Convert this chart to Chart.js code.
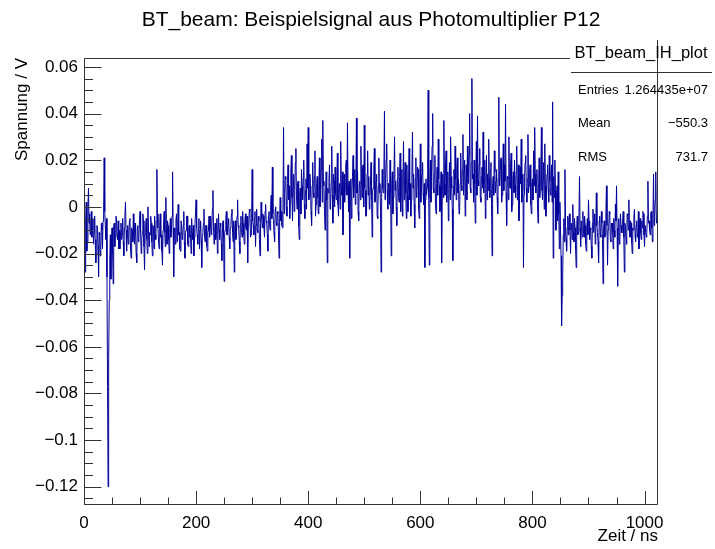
<!DOCTYPE html>
<html lang="de">
<head>
  <meta charset="UTF-8" />
  <title>BT_beam: Beispielsignal aus Photomultiplier P12</title>
  <style>
    html, body { margin: 0; padding: 0; background: #fff; }
    canvas { display: block; }
  </style>
</head>
<body>
  <canvas id="plot" width="715" height="549"></canvas>

  <script src="https://cdn.jsdelivr.net/npm/chart.js"></script>
  <script>
    // bin width of the histogram (ns) and signal per bin in mV
    const binWidthNs = 1;
    const signalMilliV = [
      -4, -10, -28, -6, 2, -19, -15, 0, 8, -7, -3, -12, -8, -2, -13, -9,
      -5, -16, -11, -4, -14, -24, -20, -8, -9, -17, -30, -11, -12, -21, -17, -7,
      -10, -18, -6, -3, 21, -2, -8, -14, -5, -30, -77, -120, -65, -40, -22, -12,
      -31, -15, -9, -20, -33, -8, -7, -17, -13, -4, -5, -12, -14, -6, -18, -10,
      -18, -11, -7, -14, -12, -5, -15, -21, -9, -4, 2, -10, -19, -13, -8, -16,
      -13, -6, -5, -18, -22, -9, -10, -15, -3, -12, -16, -7, -11, -20, -24, -9,
      -8, -15, -13, -6, -2, -11, -20, -14, -11, -3, -6, -17, -27, -12, -9, -5,
      -14, -20, 0, -9, -17, -11, -12, -4, -7, -15, -21, -8, -10, -18, -4, -12,
      -14, -6, 16, -3, -9, -15, -18, -8, -3, -13, -12, -19, -25, -10, -7, -2,
      -11, -17, 4, -9, -16, -6, -8, -14, -20, -11, -5, -13, -10, -4, 15, -9,
      -30, -12, -9, -16, -6, -3, -15, -9, 1, -12, -11, -18, -19, -6, -7, -14,
      -13, -8, -2, -15, -22, -11, -10, -4, -4, -16, -17, -9, -8, -13, -12, -20,
      -5, -11, -14, -8, -21, -13, -7, -2, 3, -9, -12, -16, -9, -5, -18, -10,
      -6, -14, -26, -12, -11, -7, -1, -13, -15, -8, -8, -17, -19, -11, -10, -4,
      -13, -9, -4, -12, -9, -1, 7, -8, -16, -11, -7, -14, -11, -5, -20, -12,
      -3, -10, -14, -7, -8, -16, -23, -9, -6, -13, -32, -11, -10, -5, -2, -12,
      -12, -7, -5, -13, -18, -9, -8, -3, -1, -11, -15, -6, -28, -10, -6, -14,
      -11, -4, 3, -8, -9, -15, -20, -7, -4, -11, -13, -2, -7, -12, -16, -6,
      -3, -9, -10, -4, -24, -8, -7, -1, -2, -13, -12, -5, 16, -6, -8, -12,
      -5, -2, -17, -8, -1, -10, -11, -4, -6, -14, -21, -7, 2, -5, -9, -3,
      -4, -9, -13, -2, 1, -6, -7, -12, -19, -4, -2, -8, -10, 1, 5, -5,
      17, -3, -6, -11, -15, -1, 0, -7, -8, -2, -3, -12, -22, -5, 4, -6,
      -2, -8, -9, 1, 34, -3, 6, 13, 12, 0, -4, 10, 18, 3, 9, -5,
      2, 15, 22, 4, -6, 8, 14, -2, 7, 19, 25, 5, -1, 10, 11, -8,
      -14, 6, 8, -3, 16, 9, 3, 12, 20, 1, -5, 7, 12, -1, 27, 8,
      34, 3, 5, 14, 10, -2, -8, 9, 19, 6, 4, 13, 24, -4, 1, 10,
      13, 4, -3, 9, 21, 0, 7, 16, 29, 2, 37, 11, 9, -2, -10, 6,
      15, 3, -24, 8, 6, 12, 18, -1, 2, 10, 26, 5, -7, 14, 11, 0,
      17, 6, 3, 11, 23, 1, -4, 9, 10, -1, 28, 7, 5, 15, -12, 4,
      14, 2, 8, 18, 20, 5, 36, 9, -2, 11, -22, 3, 12, -5, 6, 13,
      22, 4, 9, 16, 1, 8, 38, 6, 15, -2, -6, 10, 11, 3, 26, 12,
      4, 17, 18, 0, 35, 8, 7, -4, -3, 14, 24, 5, 13, -1, 2, 9,
      19, 5, -13, 7, 8, 16, 25, 2, 3, 11, 14, -4, -5, 9, 21, 6,
      10, -2, -28, 4, 16, 8, 6, 15, 41, 3, 12, 20, 27, 7, -1, 10,
      9, 1, 20, 6, -21, 10, 15, -3, 4, 14, 30, 7, 11, 0, -8, 12,
      17, 4, 2, 13, 23, -2, 8, 16, -4, 9, 28, 3, 13, 19, 6, -5,
      18, 5, -2, 11, 25, 3, 10, -4, 3, 15, 32, 8, 14, 1, -9, 12,
      21, 4, 7, 17, 16, -1, -5, 9, 27, 2, 11, 14, 19, 6, 1, 10,
      -26, 3, 12, 5, 8, 16, 50, 4, -25, 11, 20, 2, 15, 26, 40, 8,
      6, 14, 22, 1, -3, 10, 17, 5, 29, 12, 9, -2, 4, 15, -24, 7,
      14, 4, 37, 10, 5, 18, 24, 2, 11, 15, -6, 8, 19, 3, 30, 13,
      8, -1, -23, 9, 16, 5, 26, 12, 3, 17, 21, 6, 12, -3, -2, 10,
      23, 9, 7, 16, 31, 5, 15, 20, -4, 11, 18, 3, 26, 13, 10, 22,
      40, 8, 6, 19, 55, 12, 14, 2, 20, 10, -7, 15, 28, 5, 39, 11,
      9, 18, 25, 4, 2, 13, 17, 8, 32, 6, 11, 20, -5, 9, 22, 3,
      14, 7, 29, 12, 4, 16, 19, 1, -21, 10, 13, 5, 24, 15, 6, 11,
      16, 4, -3, 12, 47, 9, 10, 19, 21, 2, 5, 14, 27, 7, 18, 11,
      44, 6, -8, 13, 12, 3, 30, 9, 8, 17, 23, -2, 1, 12, 15, 6,
      20, 9, 4, 15, 26, 3, 11, 18, -6, 7, 17, 10, 29, 2, 7, 14,
      -26, 5, 13, 19, 22, 8, 2, 12, 31, 6, 9, 16, 18, 1, -3, 10,
      12, 3, 24, 9, 34, 14, 6, 11, 16, 1, -7, 8, 21, 4, 10, 15,
      34, 7, 3, 12, 19, -1, 27, 9, -4, 6, 14, 18, 8, 2, 22, 11,
      5, 10, 18, 2, 45, -22, 13, 4, 20, 7, -10, 1, 9, -6, 15, -3,
      -18, 2, -8, -21, -51, -38, -29, -12, -5, -15, 16, -8, -14, -19, -9, -4,
      -12, -6, -3, -10, -20, -9, -7, -14, 1, -11, -15, -5, -9, -18, -26, -8,
      -4, -12, -11, -3, 13, -9, -17, -6, -6, -13, -2, -10, -13, -4, -8, -16,
      -19, -8, -5, -12, 3, -6, -14, -9, -10, -17, -22, -7, -1, -11, -8, -3,
      -16, -10, 6, -8, -11, -15, -24, -6, -4, -12, -13, -2, -7, -14, -33, -9,
      -6, -13, -12, -4, 9, -8, -25, -10, -9, -2, -3, -14, -15, -7, -7, -11,
      -18, -5, -10, -13, 1, -6, 9, -9, -34, -12, -5, -16, -14, -3, -8, -11,
      -11, -5, -2, -13, -28, -7, -9, -14, -16, -3, -4, -10, 3, -8, -13, -6,
      -7, -15, -20, -9, -10, -4, -1, -12, -15, -8, -6, -13, -12, -2, -18, -9,
      -5, -11, -14, -6, -9, -2, -3, -12, -17, -8, -8, -13, -11, -4, 11, -7,
      -6, -10, -12, -3, -2, -9, -15, -5, 14, -8, -4, 3, 15, -6, -7, -2
    ];

    const xTicks = [0, 200, 400, 600, 800, 1000];
    const yTicks = [-0.12, -0.1, -0.08, -0.06, -0.04, -0.02, 0, 0.02, 0.04, 0.06];
    const xRange = [0, 1024];
    const yRange = [-0.1278, 0.0638];

    const statsTitle = "BT_beam_IH_plot";
    const statsNames = ["Entries", "Mean", "RMS"];
    const statsValues = ["1.264435e+07", "\u2212550.3", "731.7"];

    const points = signalMilliV.map((mv, i) => ({ x: i * binWidthNs, y: mv / 1000 }));

    function fmtTick(v) {
      return String(parseFloat(v.toFixed(3))).replace("-", "\u2212");
    }

    // ROOT style frame, inward ticks and the stats box
    const rootFrame = {
      id: "rootFrame",
      beforeDraw(chart) {
        const c = chart.ctx;
        c.save();
        c.fillStyle = "#fff";
        c.fillRect(0, 0, chart.width, chart.height);
        c.restore();
      },
      afterDraw(chart) {
        const c = chart.ctx;
        const a = chart.chartArea;
        const xs = chart.scales.x, ys = chart.scales.y;
        const L = Math.round(a.left) + 0.5, R = Math.round(a.right) - 0.5;
        const T = Math.round(a.top) + 0.5, B = Math.round(a.bottom) - 0.5;
        c.save();
        c.strokeStyle = "#333";
        c.lineWidth = 1;
        c.beginPath();
        c.moveTo(L, T); c.lineTo(L, B); c.lineTo(R, B);
        c.moveTo(R, 40); c.lineTo(R, B);
        c.moveTo(L, T); c.lineTo(570, T);
        // y ticks
        for (let v = -0.125; v <= yRange[1] + 1e-9; v += 0.005) {
          const y = Math.round(ys.getPixelForValue(v)) + 0.5;
          const major = yTicks.some(t => Math.abs(t - v) < 1e-6);
          c.moveTo(L, y); c.lineTo(L + (major ? 17 : 8.5), y);
        }
        // x ticks
        for (let v = 0; v <= xRange[1]; v += 50) {
          const x = Math.round(xs.getPixelForValue(v)) + 0.5;
          const major = v % 200 === 0;
          c.moveTo(x, B); c.lineTo(x, B - (major ? 13.5 : 7));
        }
        c.stroke();

        // stats box
        c.fillStyle = "#000";
        c.font = "16.5px 'Liberation Sans', Arial, sans-serif";
        c.textAlign = "center";
        c.textBaseline = "middle";
        c.fillText(statsTitle, 641, 53);
        c.beginPath();
        c.moveTo(571, 72.5); c.lineTo(712, 72.5);
        c.stroke();
        c.font = "13px 'Liberation Sans', Arial, sans-serif";
        statsNames.forEach((n, i) => {
          const y = 90 + i * 33.5;
          c.textAlign = "left";
          c.fillText(n, 578, y);
          c.textAlign = "right";
          c.fillText(statsValues[i], 708, y);
        });
        c.restore();
      }
    };

    const font = { family: "'Liberation Sans', Arial, sans-serif", size: 17 };

    new Chart(document.getElementById("plot"), {
      type: "line",
      data: {
        datasets: [{
          data: points,
          borderColor: "#000099",
          borderWidth: 1,
          pointRadius: 0,
          tension: 0,
          fill: false
        }]
      },
      options: {
        responsive: false,
        animation: false,
        devicePixelRatio: 1,
        layout: { padding: { left: 0, right: 57, top: 0, bottom: 0 } },
        plugins: {
          legend: { display: false },
          tooltip: { enabled: false },
          title: {
            display: true,
            text: "BT_beam: Beispielsignal aus Photomultiplier P12",
            fullSize: false,
            color: "#000",
            font: { family: font.family, size: 21, weight: "normal" },
            padding: { top: 7.4, bottom: 25.4 }
          }
        },
        scales: {
          x: {
            type: "linear",
            min: xRange[0],
            max: xRange[1],
            grid: { display: false, drawTicks: false },
            border: { display: false },
            afterBuildTicks: s => { s.ticks = xTicks.map(v => ({ value: v })); },
            afterFit: s => { s.height = 44; },
            ticks: { color: "#000", font: font, padding: 8, maxRotation: 0, callback: v => fmtTick(v) },
            title: { display: true, text: "Zeit / ns", align: "end", color: "#000", font: font, padding: { top: 0, bottom: 2 } }
          },
          y: {
            min: yRange[0],
            max: yRange[1],
            grid: { display: false, drawTicks: false },
            border: { display: false },
            afterBuildTicks: s => { s.ticks = yTicks.map(v => ({ value: v })); },
            afterFit: s => { s.width = 84; },
            ticks: { color: "#000", font: font, padding: 6, callback: v => fmtTick(v) },
            title: { display: true, text: "Spannung / V", align: "end", color: "#000", font: font, padding: { top: 12, bottom: 0 } }
          }
        }
      },
      plugins: [rootFrame]
    });
  </script>
</body>
</html>
